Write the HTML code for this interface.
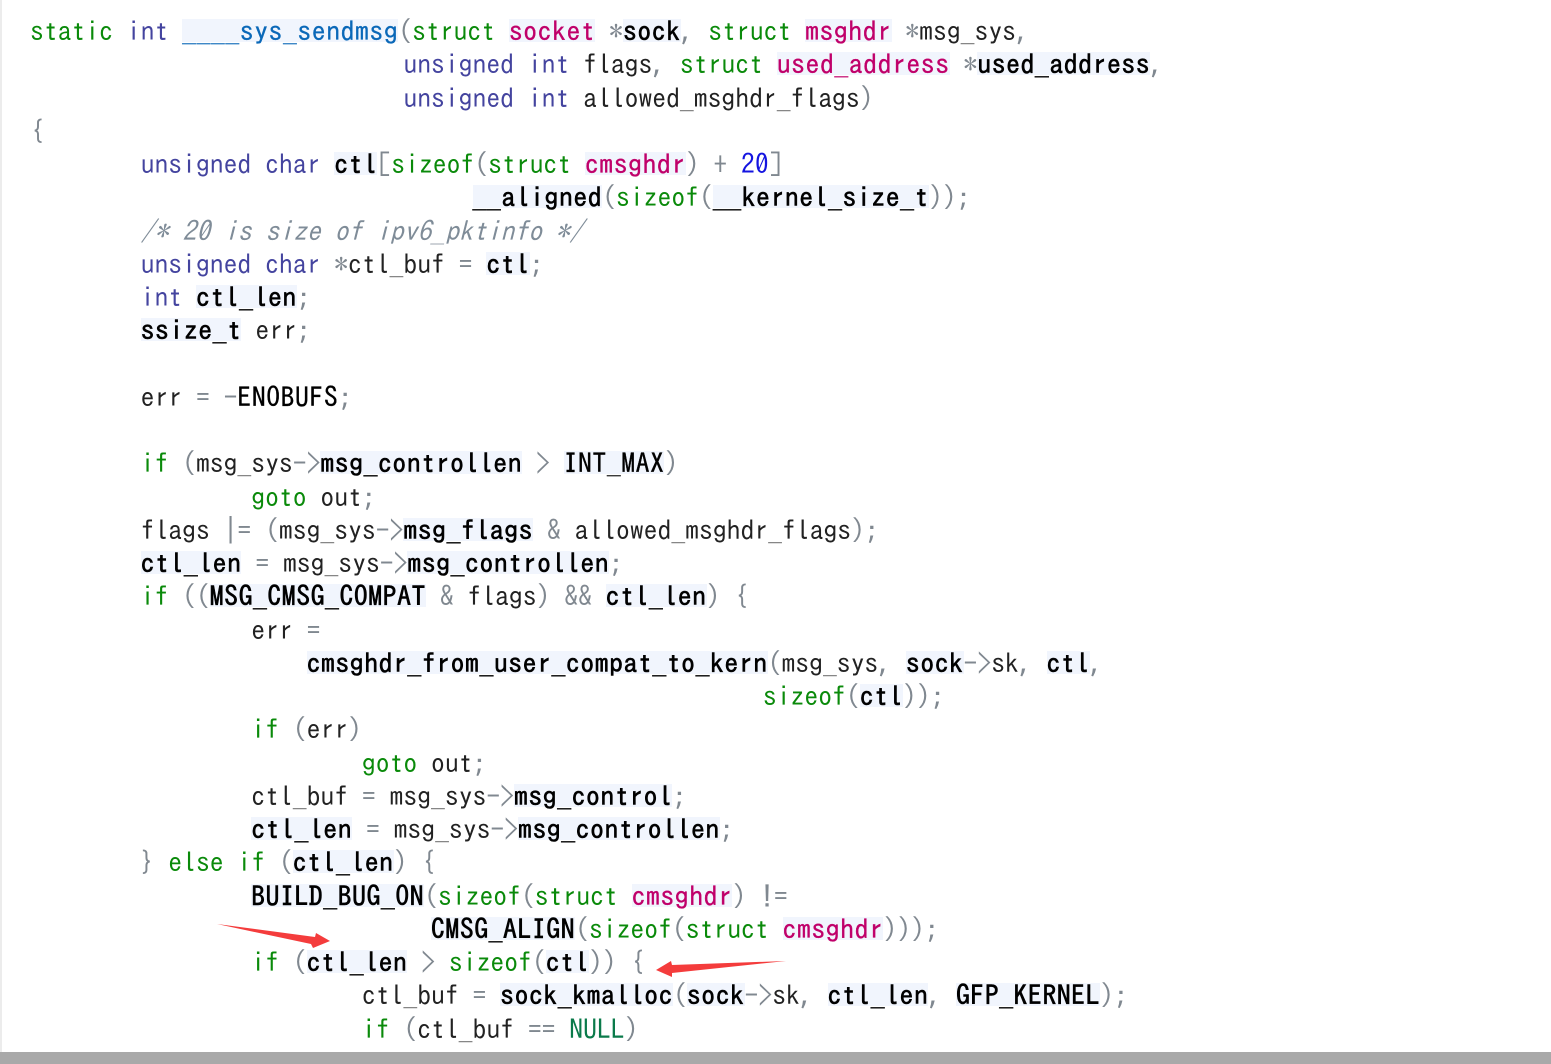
<!DOCTYPE html>
<html><head><meta charset="utf-8">
<style>
html,body{margin:0;padding:0;background:#fff;width:1551px;height:1064px;overflow:hidden}
#l{position:absolute;left:0;top:0;width:2px;height:1052px;background:#ececec}
#b{position:absolute;left:0;top:1052px;width:1551px;height:12px;background:#a9a9a9}
pre{position:absolute;left:30px;top:15px;margin:0;font:27.66px/33.25px "IPAGothic","Liberation Mono",monospace;color:#222;font-variant-ligatures:none}
.k{color:#0a8a0a}.t{color:#44449f}.g{color:#808890}.n{color:#1414e0}
.c{color:#7f8c98;font-style:italic}
.o,.f,.s,.h{letter-spacing:.58px;background:linear-gradient(#f1f5fd,#f1f5fd) no-repeat 0 1px/100% 23px}
.o{color:#000;-webkit-text-stroke:.6px #000}
.p{color:#000;-webkit-text-stroke:.3px #000;letter-spacing:.58px}
.f{color:#0a68b8;-webkit-text-stroke:.3px #0a68b8}
.s{color:#c0006a;-webkit-text-stroke:.35px #c0006a}
svg{position:absolute;left:0;top:0}
</style></head><body>
<div id="l"></div>
<pre><span class="k">static</span> <span class="t">int</span> <span class="f">____sys_sendmsg</span><span class="g">(</span><span class="k">struct</span> <span class="s">socket</span> <span class="g">*</span><span class="o">sock</span><span class="g">,</span> <span class="k">struct</span> <span class="s">msghdr</span> <span class="g">*</span>msg_sys<span class="g">,</span>
                           <span class="t">unsigned</span> <span class="t">int</span> flags<span class="g">,</span> <span class="k">struct</span> <span class="s">used_address</span> <span class="g">*</span><span class="o">used_address</span><span class="g">,</span>
                           <span class="t">unsigned</span> <span class="t">int</span> allowed_msghdr_flags<span class="g">)</span>
<span class="g">{</span>
        <span class="t">unsigned</span> <span class="t">char</span> <span class="o">ctl</span><span class="g">[</span><span class="k">sizeof</span><span class="g">(</span><span class="k">struct</span> <span class="s">cmsghdr</span><span class="g">)</span> <span class="g">+</span> <span class="n">20</span><span class="g">]</span>
                                <span class="o">__aligned</span><span class="g">(</span><span class="k">sizeof</span><span class="g">(</span><span class="o">__kernel_size_t</span><span class="g">));</span>
        <span class="c">/* 20 is size of ipv6_pktinfo */</span>
        <span class="t">unsigned</span> <span class="t">char</span> <span class="g">*</span>ctl_buf <span class="g">=</span> <span class="o">ctl</span><span class="g">;</span>
        <span class="t">int</span> <span class="o">ctl_len</span><span class="g">;</span>
        <span class="o">ssize_t</span> err<span class="g">;</span>

        err <span class="g">=</span> <span class="g">-</span><span class="p">ENOBUFS</span><span class="g">;</span>

        <span class="k">if</span> <span class="g">(</span>msg_sys<span class="g">-&gt;</span><span class="o">msg_controllen</span> <span class="g">&gt;</span> <span class="p h">INT_MAX</span><span class="g">)</span>
                <span class="k">goto</span> out<span class="g">;</span>
        flags <span class="g">|=</span> <span class="g">(</span>msg_sys<span class="g">-&gt;</span><span class="o">msg_flags</span> <span class="g">&amp;</span> allowed_msghdr_flags<span class="g">);</span>
        <span class="o">ctl_len</span> <span class="g">=</span> msg_sys<span class="g">-&gt;</span><span class="o">msg_controllen</span><span class="g">;</span>
        <span class="k">if</span> <span class="g">((</span><span class="o">MSG_CMSG_COMPAT</span> <span class="g">&amp;</span> flags<span class="g">)</span> <span class="g">&amp;&amp;</span> <span class="o">ctl_len</span><span class="g">)</span> <span class="g">{</span>
                err <span class="g">=</span>
                    <span class="o">cmsghdr_from_user_compat_to_kern</span><span class="g">(</span>msg_sys<span class="g">,</span> <span class="o">sock</span><span class="g">-&gt;</span>sk<span class="g">,</span> <span class="o">ctl</span><span class="g">,</span>
                                                     <span class="k">sizeof</span><span class="g">(</span><span class="o">ctl</span><span class="g">));</span>
                <span class="k">if</span> <span class="g">(</span>err<span class="g">)</span>
                        <span class="k">goto</span> out<span class="g">;</span>
                ctl_buf <span class="g">=</span> msg_sys<span class="g">-&gt;</span><span class="o">msg_control</span><span class="g">;</span>
                <span class="o">ctl_len</span> <span class="g">=</span> msg_sys<span class="g">-&gt;</span><span class="o">msg_controllen</span><span class="g">;</span>
        <span class="g">}</span> <span class="k">else</span> <span class="k">if</span> <span class="g">(</span><span class="o">ctl_len</span><span class="g">)</span> <span class="g">{</span>
                <span class="o">BUILD_BUG_ON</span><span class="g">(</span><span class="k">sizeof</span><span class="g">(</span><span class="k">struct</span> <span class="s">cmsghdr</span><span class="g">)</span> <span class="g">!=</span>
                             <span class="o">CMSG_ALIGN</span><span class="g">(</span><span class="k">sizeof</span><span class="g">(</span><span class="k">struct</span> <span class="s">cmsghdr</span><span class="g">)));</span>
                <span class="k">if</span> <span class="g">(</span><span class="o">ctl_len</span> <span class="g">&gt;</span> <span class="k">sizeof</span><span class="g">(</span><span class="o">ctl</span><span class="g">))</span> <span class="g">{</span>
                        ctl_buf <span class="g">=</span> <span class="o">sock_kmalloc</span><span class="g">(</span><span class="o">sock</span><span class="g">-&gt;</span>sk<span class="g">,</span> <span class="o">ctl_len</span><span class="g">,</span> <span class="o">GFP_KERNEL</span><span class="g">);</span>
                        <span class="k">if</span> <span class="g">(</span>ctl_buf <span class="g">==</span> <span class="k" style="color:#0a7a4a">NULL</span><span class="g">)</span></pre>
<svg width="1551" height="1064" viewBox="0 0 1551 1064">
<polygon fill="#f43c3c" points="217,924 315,937 316,933 330,941 313,948 311,944"/>
<polygon fill="#f43c3c" points="786,961 672,965 671,961 656,970 672,977 672,973"/>
</svg>
<div id="b"></div>
</body></html>
